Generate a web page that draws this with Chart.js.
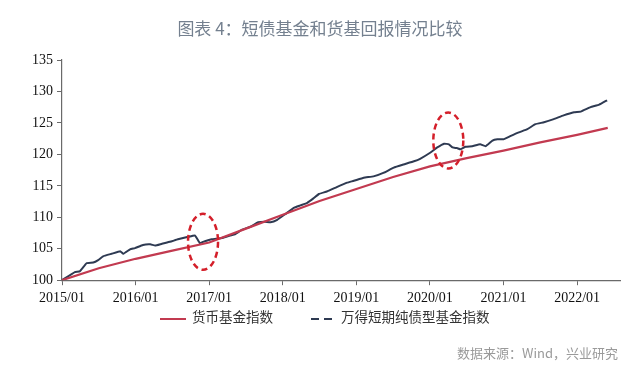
<!DOCTYPE html>
<html lang="zh">
<head>
  <meta charset="UTF-8" />
  <title>短债基金和货基回报情况比较</title>
  <script src="https://cdn.jsdelivr.net/npm/chart.js"></script>
  <style>
    body {
      margin: 0;
      background: #fff;
      font-family: "Noto Sans CJK SC", sans-serif;
    }
    .wrap {
      position: relative;
      width: 640px;
      height: 375px;
    }
    #title {
      position: absolute;
      top: 15px;
      left: 0;
      width: 640px;
      text-align: center;
      font-size: 17px;
      color: #74808f;
    }
    #legend {
      position: absolute;
      top: 304px;
      left: 160px;
      font-size: 13.5px;
      color: #333;
      white-space: nowrap;
    }
    #legend .item { display: inline-block; vertical-align: middle; }
    #legend .swatch {
      display: inline-block;
      vertical-align: middle;
      height: 0;
      margin-right: 6px;
    }
    #legend .solid { width: 26px; border-top: 2.5px solid #c23a50; }
    #legend .dash { width: 8px; border-top: 2.5px solid #2e3a52; margin-right: 5px; }
    #legend .gap { display: inline-block; width: 38px; }
    #source {
      position: absolute;
      top: 343px;
      right: 22px;
      font-size: 13px;
      color: #9a9a9a;
    }
  </style>
</head>
<body>
  <div class="wrap">
    <canvas id="chart" width="640" height="375"></canvas>
    <div id="title">图表 4：短债基金和货基回报情况比较</div>
    <div id="legend"></div>
    <div id="source">数据来源：Wind，兴业研究</div>
  </div>

  <script>
    // months counted from 2015/01
    const xLabels = ["2015/01", "2016/01", "2017/01", "2018/01", "2019/01", "2020/01", "2021/01", "2022/01"];
    const yTicks = [100, 105, 110, 115, 120, 125, 130, 135];

    const moneyName = "货币基金指数";
    const moneyMonths = [0, 6, 12, 18, 24, 30, 36, 42, 48, 54, 60, 66, 72, 78, 84, 89];
    const moneyValues = [100.0, 101.9, 103.4, 104.7, 106.0, 108.2, 110.4, 112.6, 114.5, 116.4, 118.1, 119.4, 120.6, 121.9, 123.1, 124.2];

    const bondName = "万得短期纯债型基金指数";
    const bondMonths = [0, 2.1, 2.9, 4.0, 5.1, 5.9, 6.7, 8.1, 9.5, 10.0, 11.1, 11.9, 13.2, 14.4, 15.2, 16.3, 17.6, 18.9, 20.6, 21.7,
      22.5, 23.3, 24.4, 26.1, 27.4, 28.2, 29.3, 30.7, 32.0, 33.1, 34.0, 35.1, 36.4, 37.8, 38.9, 40.0, 41.0, 41.9, 43.2, 44.8,
      46.5, 47.6, 49.2, 50.8, 52.5, 54.1, 55.7, 57.4, 58.4, 60.1, 61.2, 62.3, 63.1, 63.7, 64.4, 65.0, 65.8, 66.9, 68.2, 69.1,
      70.2, 71.0, 72.0, 73.1, 74.5, 75.9, 77.2, 78.6, 80.2, 81.8, 83.5, 84.6, 86.2, 87.6, 88.9];
    const bondValues = [100.0, 101.3, 101.4, 102.7, 102.8, 103.2, 103.8, 104.2, 104.6, 104.2, 104.9, 105.1, 105.6, 105.7, 105.5, 105.8, 106.1, 106.5, 106.9, 107.1,
      105.9, 106.2, 106.5, 106.7, 107.1, 107.3, 108.0, 108.5, 109.2, 109.3, 109.2, 109.6, 110.5, 111.5, 111.9, 112.3, 113.0, 113.7, 114.1, 114.8,
      115.5, 115.8, 116.3, 116.5, 117.1, 117.9, 118.4, 118.9, 119.3, 120.3, 121.1, 121.7, 121.6, 121.1, 121.0, 120.8, 121.2, 121.3, 121.6, 121.3,
      122.2, 122.4, 122.4, 122.9, 123.5, 124.0, 124.8, 125.1, 125.6, 126.2, 126.7, 126.8, 127.5, 127.9, 128.6];

    // dashed ellipses marking the two drawdowns
    const markMonths = [23.0, 63.0];
    const markValues = [106.1, 122.2];

    document.getElementById("legend").innerHTML =
      '<span class="item"><span class="swatch solid"></span>' + moneyName + '</span>' +
      '<span class="gap"></span>' +
      '<span class="item"><span class="swatch dash"></span><span class="swatch dash" style="margin-right:9px"></span>' + bondName + '</span>';

    const ellipsePlugin = {
      id: "marks",
      afterDatasetsDraw(chart) {
        const ctx = chart.ctx;
        const xs = chart.scales.x, ys = chart.scales.y;
        ctx.save();
        ctx.strokeStyle = "#d41f2a";
        ctx.lineWidth = 2.5;
        ctx.setLineDash([6, 4]);
        markMonths.forEach((m, i) => {
          ctx.beginPath();
          ctx.ellipse(xs.getPixelForValue(m), ys.getPixelForValue(markValues[i]), 15, 28, 0, 0, Math.PI * 2);
          ctx.stroke();
        });
        ctx.restore();
      }
    };

    const tickFont = { family: "'Liberation Serif', serif", size: 14 };

    new Chart(document.getElementById("chart"), {
      type: "line",
      data: {
        datasets: [{
          label: moneyName,
          data: moneyMonths.map((m, i) => ({ x: m, y: moneyValues[i] })),
          borderColor: "#c23a50",
          borderWidth: 2.2,
          pointRadius: 0,
          tension: 0
        }, {
          label: bondName,
          data: bondMonths.map((m, i) => ({ x: m, y: bondValues[i] })),
          borderColor: "#2e3a52",
          borderWidth: 2,
          pointRadius: 0,
          tension: 0.1
        }]
      },
      options: {
        responsive: false,
        animation: false,
        layout: { padding: { left: 28, right: 20, top: 60, bottom: 63 } },
        plugins: {
          tooltip: { enabled: false },
          legend: { display: false }
        },
        scales: {
          x: {
            type: "linear",
            min: 0,
            max: 91,
            border: { color: "#6a6a6a", width: 1.2 },
            grid: { drawOnChartArea: false, drawTicks: true, tickLength: 5, color: "#6a6a6a" },
            ticks: {
              stepSize: 12,
              autoSkip: false,
              maxRotation: 0,
              padding: 5,
              color: "#111",
              font: tickFont,
              callback: v => xLabels[v / 12]
            }
          },
          y: {
            min: 100,
            max: 135,
            border: { color: "#6a6a6a", width: 1.2 },
            grid: { drawOnChartArea: false, drawTicks: true, tickLength: 5, color: "#6a6a6a" },
            afterBuildTicks: s => { s.ticks = yTicks.map(v => ({ value: v })); },
            ticks: { padding: 4, color: "#111", font: tickFont }
          }
        }
      },
      plugins: [ellipsePlugin]
    });
  </script>
</body>
</html>
